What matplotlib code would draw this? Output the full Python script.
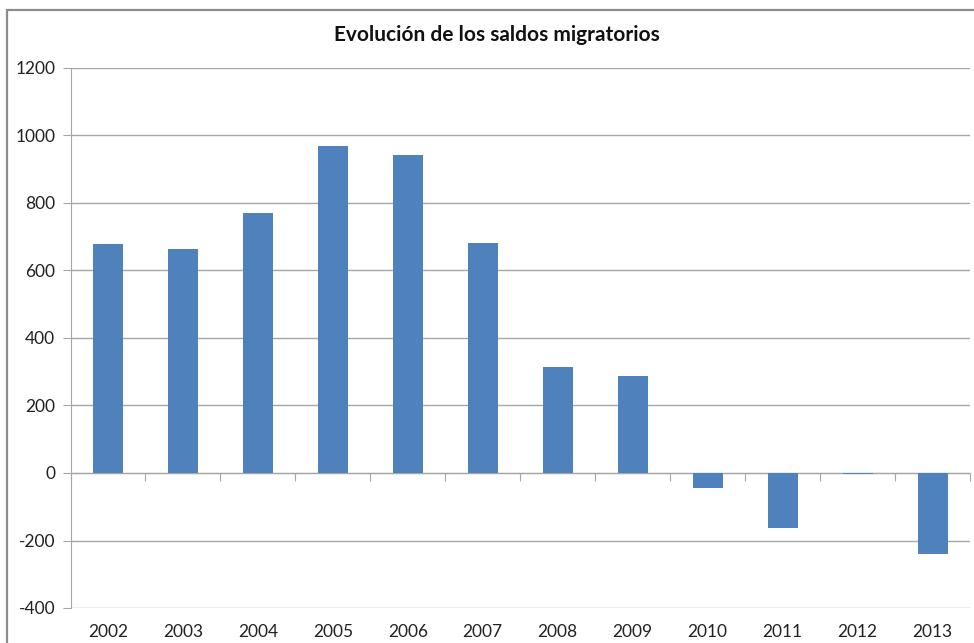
import matplotlib
matplotlib.use("Agg")
import matplotlib.pyplot as plt
from matplotlib.patches import Rectangle
import matplotlib.transforms as mtransforms
import numpy as np

years = ["2002", "2003", "2004", "2005", "2006", "2007", "2008", "2009", "2010", "2011", "2012", "2013"]
saldos = [678, 664, 770, 969, 942, 681, 314, 287, -44, -163, -3, -240]
yticks = [-400, -200, 0, 200, 400, 600, 800, 1000, 1200]
title = "Evolución de los saldos migratorios"

plt.rcParams['font.family'] = ['Lato', 'DejaVu Sans']

W, H = 974, 643
fig = plt.figure(figsize=(W / 100, H / 100), dpi=100)
fig.patch.set_facecolor('white')

# outer chart border (extends beyond image on right/bottom)
fig.patches.append(Rectangle((7 / W, -0.05), 1.2, 1 - 10 / H + 0.05, transform=fig.transFigure,
                             fill=False, edgecolor='#8c8c8c', linewidth=1.6))

left, right, top, bottom = 70.5, 970, 68, 608
ax = fig.add_axes([left / W, 1 - bottom / H, (right - left) / W, (bottom - top) / H])

x = np.arange(len(years))
ax.bar(x, saldos, width=0.4, color='#4F81BD', zorder=5)

ax.set_xlim(-0.5, len(years) - 0.5)
ax.set_ylim(-400, 1200)
ax.set_yticks(yticks)
ax.set_yticklabels([str(v) for v in yticks], fontsize=12.5, color='#222222')
ax.grid(axis='y', color='#a6a6a6', linewidth=1.0, zorder=0)

for s in ['top', 'right']:
    ax.spines[s].set_visible(False)
ax.spines['left'].set_color('#a6a6a6')
ax.spines['bottom'].set_position(('data', 0))
ax.spines['bottom'].set_color('#a6a6a6')
ax.spines['bottom'].set_zorder(4)

ax.tick_params(axis='y', length=6, color='#a6a6a6', pad=5)
ax.set_xticks(np.arange(len(years) + 1) - 0.5)
ax.set_xticklabels([])
ax.tick_params(axis='x', length=6, color='#a6a6a6', direction='out')

trans = mtransforms.blended_transform_factory(ax.transData, ax.transAxes)
for xi, lab in zip(x, years):
    ax.text(xi, -24 / (bottom - top), lab, transform=trans, ha='center', va='center',
            fontsize=12.5, color='#222222')

fig.text(497 / W, 1 - 35 / H, title, ha='center', va='center', fontsize=15,
         fontweight='bold', color='#111111')

fig.savefig('out.png', dpi=100)
